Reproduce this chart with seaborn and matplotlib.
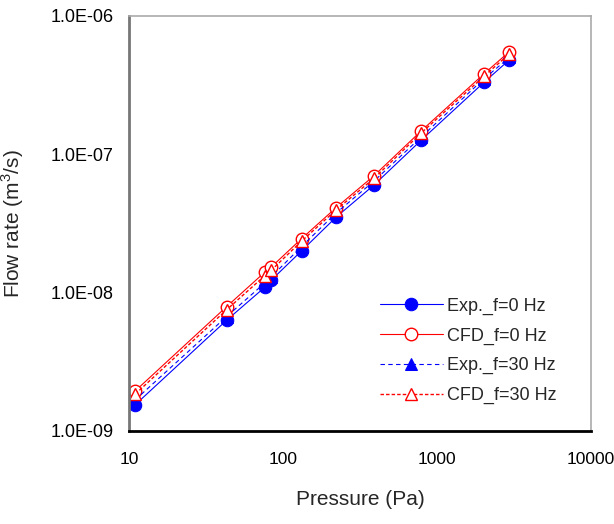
import seaborn as sns
import matplotlib
matplotlib.use("Agg")
import matplotlib.pyplot as plt
from matplotlib.ticker import FuncFormatter, LogLocator, NullLocator

# pressure (Pa) and flow rates (m^3/s)
pressure = [11, 43, 76, 84, 132, 221, 391, 789, 2018, 2951]
exp_f0 = [1.55e-9, 6.3e-9, 1.09e-8, 1.23e-8, 2.0e-8, 3.5e-8, 6.0e-8, 1.26e-7, 3.3e-7, 4.8e-7]
cfd_f0 = [1.95e-9, 7.9e-9, 1.40e-8, 1.53e-8, 2.45e-8, 4.1e-8, 7.0e-8, 1.47e-7, 3.8e-7, 5.5e-7]
exp_f30 = [1.68e-9, 6.7e-9, 1.17e-8, 1.30e-8, 2.15e-8, 3.75e-8, 6.4e-8, 1.33e-7, 3.5e-7, 5.0e-7]
cfd_f30 = [1.85e-9, 7.5e-9, 1.32e-8, 1.45e-8, 2.35e-8, 3.95e-8, 6.7e-8, 1.42e-7, 3.65e-7, 5.3e-7]
labels = ["Exp._f=0 Hz", "CFD_f=0 Hz", "Exp._f=30 Hz", "CFD_f=30 Hz"]

sns.set_style("white")
plt.rcParams['font.family'] = ['Liberation Sans', 'DejaVu Sans']
plt.rcParams['mathtext.fontset'] = 'custom'
plt.rcParams['mathtext.rm'] = 'Liberation Sans'

fig = plt.figure(figsize=(6.14, 5.24), dpi=100)
ax = fig.add_axes([0.210, 0.1775, 0.7525, 0.7925])

sns.lineplot(x=pressure, y=exp_f0, ax=ax, color='blue', lw=0.8, marker='o', ms=9,
             markerfacecolor='blue', markeredgecolor='blue', label=labels[0])
sns.lineplot(x=pressure, y=cfd_f0, ax=ax, color='red', lw=0.8, marker='o', ms=9,
             markerfacecolor='white', markeredgecolor='red', markeredgewidth=1.0, label=labels[1])
sns.lineplot(x=pressure, y=exp_f30, ax=ax, color='blue', lw=0.8, marker='^', ms=9,
             markerfacecolor='blue', markeredgecolor='blue', label=labels[2])
sns.lineplot(x=pressure, y=cfd_f30, ax=ax, color='red', lw=1.0, marker='^', ms=9,
             markerfacecolor='white', markeredgecolor='red', markeredgewidth=1.0, label=labels[3])
lines = ax.get_lines()
lines[2].set_dashes([4, 3])
lines[3].set_dashes([2.5, 1.5])

ax.set_xscale('log')
ax.set_yscale('log')
ax.set_xlim(10, 10000)
ax.set_ylim(1e-9, 1e-6)

ax.yaxis.set_major_locator(LogLocator(base=10, numticks=10))
ax.yaxis.set_minor_locator(NullLocator())
ax.yaxis.set_major_formatter(FuncFormatter(lambda v, p: f"{v:.1E}"))
ax.xaxis.set_major_formatter(FuncFormatter(lambda v, p: f"{int(round(v))}"))
ax.xaxis.set_minor_locator(LogLocator(base=10, subs=range(2, 10), numticks=20))
ax.xaxis.offsetText.set_visible(False)
ax.yaxis.offsetText.set_visible(False)

ax.tick_params(axis='both', which='major', direction='in', length=6, width=1,
               labelsize=13, colors='black')
ax.tick_params(axis='x', which='major', pad=15, labelsize=12.5)
ax.tick_params(axis='y', which='major', pad=11)
ax.tick_params(axis='x', which='minor', direction='in', length=4, width=1, color='#999999')
ax.tick_params(axis='y', which='minor', length=0)

ax.set_xlabel("Pressure (Pa)", fontsize=15, labelpad=17)
ax.set_ylabel("Flow rate (m$^3$/s)", fontsize=15, labelpad=18)

for side in ['top', 'right']:
    ax.spines[side].set_color('#aaaaaa')
    ax.spines[side].set_linewidth(1.2)
ax.spines['left'].set_color('#777777')
ax.spines['left'].set_linewidth(2)
ax.spines['bottom'].set_color('black')
ax.spines['bottom'].set_linewidth(2)

ax.legend(loc='center left', bbox_to_anchor=(0.543, 0.193), frameon=False,
          fontsize=13, handlelength=3.5, handletextpad=0.2, labelspacing=0.7,
          borderpad=0, borderaxespad=0)

fig.savefig("out.png", dpi=100)
